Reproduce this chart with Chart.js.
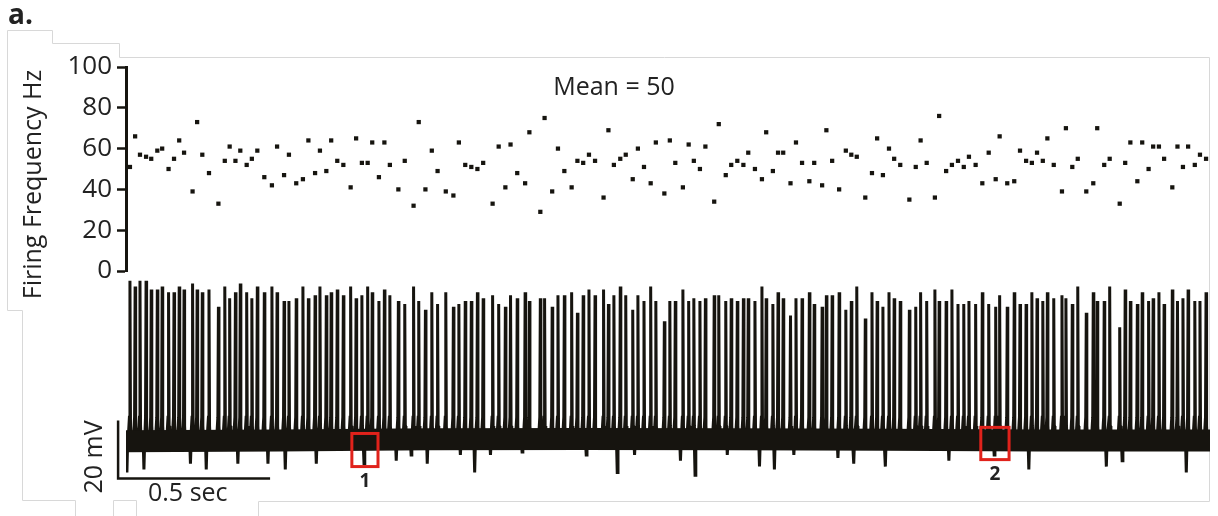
<!DOCTYPE html>
<html>
<head>
<meta charset="utf-8">
<title>Firing frequency and membrane potential</title>
<script src="https://cdn.jsdelivr.net/npm/chart.js@4.4.1/dist/chart.umd.min.js"></script>
<style>
  body { margin: 0; background: #fff; }
  #wrap { position: relative; width: 1218px; height: 516px; }
  #wrap canvas { position: absolute; left: 0; top: 0; }
</style>
</head>
<body>
<div id="wrap">
  <canvas id="freqChart" width="1218" height="516"></canvas>
  <canvas id="traceChart" width="1218" height="516"></canvas>
</div>
<script>
// spike times (s)
const spikeTimes = [
  0.013, 0.030, 0.046, 0.066, 0.083, 0.103, 0.119, 0.140, 0.158, 0.175,
  0.191, 0.219, 0.234, 0.251, 0.273, 0.304, 0.325, 0.341, 0.360, 0.376,
  0.397, 0.414, 0.432, 0.455, 0.480, 0.497, 0.520, 0.536, 0.560, 0.582,
  0.600, 0.622, 0.638, 0.659, 0.675, 0.695, 0.715, 0.739, 0.757, 0.776,
  0.795, 0.810, 0.832, 0.850, 0.868, 0.896, 0.917, 0.946, 0.963, 0.985,
  1.006, 1.025, 1.052, 1.077, 1.095, 1.116, 1.136, 1.156, 1.175, 1.206,
  1.226, 1.248, 1.265, 1.287, 1.313, 1.327, 1.363, 1.377, 1.402, 1.421,
  1.442, 1.466, 1.485, 1.504, 1.523, 1.543, 1.571, 1.587, 1.605, 1.626,
  1.644, 1.667, 1.684, 1.704, 1.726, 1.743, 1.771, 1.789, 1.807, 1.832,
  1.851, 1.868, 1.888, 1.906, 1.935, 1.950, 1.973, 1.991, 2.011, 2.031,
  2.047, 2.069, 2.092, 2.106, 2.128, 2.145, 2.162, 2.186, 2.204, 2.224,
  2.248, 2.264, 2.290, 2.304, 2.323, 2.346, 2.368, 2.386, 2.404, 2.432,
  2.454, 2.471, 2.490, 2.510, 2.527, 2.547, 2.577, 2.598, 2.614, 2.634,
  2.661, 2.675, 2.698, 2.717, 2.737, 2.756, 2.773, 2.795, 2.817, 2.838,
  2.861, 2.874, 2.899, 2.922, 2.941, 2.961, 2.980, 2.997, 3.016, 3.031,
  3.052, 3.079, 3.092, 3.113, 3.131, 3.159, 3.182, 3.195, 3.218, 3.236,
  3.269, 3.287, 3.304, 3.327, 3.343, 3.364, 3.379, 3.398, 3.415, 3.442,
  3.459, 3.477, 3.494, 3.516, 3.533, 3.553
];

// instantaneous firing frequency (Hz) at each spike
const firingHz = [
  51, 66, 57, 56, 55, 59, 60, 50, 55, 64,
  58, 39, 73, 57, 48, 33, 54, 61, 54, 59,
  52, 55, 59, 46, 42, 61, 47, 57, 43, 45,
  64, 48, 59, 49, 64, 54, 52, 41, 65, 53,
  53, 63, 46, 63, 52, 40, 54, 32, 73, 40,
  59, 49, 39, 37, 63, 52, 51, 50, 53, 33,
  61, 41, 62, 48, 43, 68, 29, 75, 39, 60,
  49, 41, 54, 53, 57, 54, 36, 69, 52, 55,
  57, 45, 60, 51, 43, 63, 38, 64, 53, 41,
  62, 54, 50, 61, 34, 72, 47, 52, 54, 52,
  58, 50, 45, 68, 49, 58, 58, 43, 63, 53,
  44, 53, 42, 69, 54, 40, 59, 57, 56, 36,
  48, 65, 47, 60, 55, 52, 35, 51, 64, 53,
  36, 76, 49, 52, 54, 51, 56, 52, 43, 58,
  45, 66, 43, 44, 59, 54, 53, 58, 54, 65,
  52, 39, 70, 51, 55, 39, 43, 70, 52, 55,
  33, 53, 63, 44, 63, 50, 61, 61, 55, 41,
  61, 51, 61, 52, 57, 55
];

// spike peak potential (mV)
const spikePeaks = [
  -5, -7, -5, -5, -8, -8, -7, -9, -9, -7,
  -8, -6, -8, -9, -8, -14, -7, -11, -9, -6,
  -9, -11, -7, -9, -7, -9, -12, -12, -11, -7,
  -11, -10, -7, -10, -9, -8, -10, -7, -11, -10,
  -7, -9, -12, -8, -10, -12, -13, -7, -12, -15,
  -9, -13, -9, -14, -13, -12, -12, -9, -11, -10,
  -13, -14, -10, -11, -9, -12, -11, -11, -14, -10,
  -10, -9, -16, -10, -8, -10, -8, -13, -10, -7,
  -10, -15, -10, -12, -7, -12, -19, -12, -12, -8,
  -12, -11, -12, -11, -10, -10, -12, -11, -12, -11,
  -11, -12, -7, -11, -13, -9, -11, -17, -11, -11,
  -9, -13, -14, -10, -10, -9, -15, -12, -7, -18,
  -9, -12, -14, -9, -11, -12, -15, -14, -9, -12,
  -8, -12, -12, -8, -13, -13, -12, -13, -9, -13,
  -14, -10, -14, -9, -13, -13, -9, -11, -12, -9,
  -11, -10, -11, -13, -7, -16, -9, -12, -12, -7,
  -21, -8, -12, -13, -9, -12, -11, -9, -13, -8,
  -12, -11, -8, -12, -12, -9
];

// downward deflections below the noise band
const dipTimes = [
  0.003, 0.059, 0.212, 0.264, 0.368, 0.467, 0.524, 0.626, 0.783, 0.889,
  0.938, 0.991, 1.100, 1.147, 1.199, 1.303, 1.514, 1.616, 1.673, 1.824,
  1.872, 1.978, 2.084, 2.133, 2.197, 2.342, 2.394, 2.498, 2.707, 2.856,
  2.970, 3.225, 3.277, 3.488
];
const dipMins = [
  -71, -70, -68, -70, -68, -68, -70, -68, -68, -67,
  -65, -68, -65, -71, -65, -64, -65, -71, -65, -67,
  -72, -65, -69, -70, -65, -66, -68, -69, -67, -65,
  -70, -69, -67, -71
];

// resting level of the noisy baseline (mV)
const baseTimes = [0, 0.5, 1.0, 1.5, 2.0, 2.5, 3.0, 3.566];
const baseLevels = [-60.3, -60, -59.6, -59.5, -59.6, -59.8, -60, -60];

const meanHz = 50;
const restMv = -60;
const thresholdMv = -52;
const tEnd = 3.566;

// boxed excerpts 1 and 2
const boxTimes = [[0.743, 0.829], [2.812, 2.905]];
const boxLevels = [[-69, -57.6], [-66.6, -55.5]];
const boxLabels = ["1", "2"];

// scale bar
const barStart = [-0.026, -73.1];
const barSec = 0.5;
const barMv = 20;

const FONT = "'Open Sans', 'DejaVu Sans', sans-serif";
const INK = "#16140f";
const TEXT = "#222";

const decorPlugin = {
  id: "decor",
  beforeDraw(chart) {
    const ctx = chart.ctx;
    ctx.save();
    ctx.strokeStyle = "#d8d8d8";
    ctx.lineWidth = 1;
    ctx.beginPath();
    ctx.moveTo(22.5, 500.5);
    ctx.lineTo(22.5, 310.5);
    ctx.lineTo(7.5, 310.5);
    ctx.lineTo(7.5, 30.5);
    ctx.lineTo(52.5, 30.5);
    ctx.lineTo(52.5, 43.5);
    ctx.lineTo(119.5, 43.5);
    ctx.lineTo(119.5, 57.5);
    ctx.lineTo(1209.5, 57.5);
    ctx.lineTo(1209.5, 501.5);
    ctx.lineTo(258.5, 501.5);
    ctx.lineTo(258.5, 516);
    ctx.moveTo(22.5, 500.5);
    ctx.lineTo(75.5, 500.5);
    ctx.lineTo(75.5, 516);
    ctx.moveTo(113.5, 516);
    ctx.lineTo(113.5, 500.5);
    ctx.lineTo(136.5, 500.5);
    ctx.lineTo(136.5, 516);
    ctx.stroke();
    ctx.restore();
  },
  afterDraw(chart) {
    const ctx = chart.ctx;
    ctx.save();
    ctx.fillStyle = TEXT;
    ctx.font = "bold 28px " + FONT;
    ctx.textAlign = "left";
    ctx.fillText("a.", 8, 24);

    ctx.font = "25px " + FONT;
    ctx.textAlign = "center";
    ctx.fillText("Mean = " + meanHz, 614, 95);

    ctx.translate(40.5, 184.5);
    ctx.rotate(-Math.PI / 2);
    ctx.fillText("Firing Frequency Hz", 0, 0);
    ctx.restore();
  },
};

const scaleBarPlugin = {
  id: "scaleBar",
  afterDraw(chart) {
    const ctx = chart.ctx;
    const xs = chart.scales.x;
    const ys = chart.scales.y;
    ctx.save();

    const x0 = xs.getPixelForValue(barStart[0]);
    const x1 = xs.getPixelForValue(barStart[0] + barSec);
    const y0 = ys.getPixelForValue(barStart[1]);
    const y1 = ys.getPixelForValue(barStart[1] + barMv);
    ctx.strokeStyle = INK;
    ctx.lineWidth = 2.5;
    ctx.beginPath();
    ctx.moveTo(x0, y1);
    ctx.lineTo(x0, y0);
    ctx.lineTo(x1, y0);
    ctx.stroke();

    ctx.fillStyle = TEXT;
    ctx.font = "25px " + FONT;
    ctx.textAlign = "left";
    ctx.fillText(barSec + " sec", 148, 501);

    ctx.save();
    ctx.translate(102, 457);
    ctx.rotate(-Math.PI / 2);
    ctx.textAlign = "center";
    ctx.fillText(barMv + " mV", 0, 0);
    ctx.restore();

    ctx.strokeStyle = "#e0221b";
    ctx.lineWidth = 3;
    ctx.font = "bold 19px " + FONT;
    ctx.textAlign = "center";
    boxTimes.forEach((span, i) => {
      const left = xs.getPixelForValue(span[0]);
      const right = xs.getPixelForValue(span[1]);
      const bottom = ys.getPixelForValue(boxLevels[i][0]);
      const top = ys.getPixelForValue(boxLevels[i][1]);
      ctx.strokeRect(left, top, right - left, bottom - top);
      ctx.fillText(boxLabels[i], (left + right) / 2, bottom + 20);
    });
    ctx.restore();
  },
};

const freqChart = new Chart(document.getElementById("freqChart"), {
  type: "scatter",
  data: {
    datasets: [
      {
        data: spikeTimes.map((t, i) => ({ x: t, y: firingHz[i] })),
        pointStyle: "rect",
        pointRadius: 3,
        borderWidth: 0,
        backgroundColor: INK,
      },
    ],
  },
  options: {
    responsive: false,
    animation: false,
    devicePixelRatio: 1,
    layout: { padding: { left: 0, right: 8, top: 67, bottom: 245 } },
    plugins: { legend: { display: false }, tooltip: { enabled: false } },
    scales: {
      x: { type: "linear", min: 0, max: tEnd, display: false },
      y: {
        min: 0,
        max: 100,
        ticks: { stepSize: 20, color: TEXT, padding: 5, font: { family: FONT, size: 26 } },
        grid: { drawOnChartArea: false, color: INK, tickLength: 9, tickWidth: 2.5 },
        border: { color: INK, width: 3 },
        afterFit: (scale) => {
          scale.width = 126;
        },
      },
    },
  },
  plugins: [decorPlugin],
});

// trace: spikes ramp up through threshold to the peak, dips drop straight down
const events = [];
spikeTimes.forEach((t, i) => events.push({ t: t, v: spikePeaks[i], spike: true }));
dipTimes.forEach((t, i) => events.push({ t: t, v: dipMins[i], spike: false }));
events.sort((a, b) => a.t - b.t);

const tracePoints = [];
events.forEach((e) => {
  if (e.spike) {
    tracePoints.push({ x: e.t - 0.006, y: restMv });
    tracePoints.push({ x: e.t - 0.0018, y: thresholdMv });
    tracePoints.push({ x: e.t, y: e.v });
    tracePoints.push({ x: e.t + 0.0018, y: thresholdMv - 3 });
    tracePoints.push({ x: e.t + 0.004, y: restMv });
  } else {
    tracePoints.push({ x: e.t - 0.0025, y: restMv });
    tracePoints.push({ x: e.t, y: e.v });
    tracePoints.push({ x: e.t + 0.0025, y: restMv });
  }
});

const traceChart = new Chart(document.getElementById("traceChart"), {
  type: "scatter",
  data: {
    datasets: [
      {
        data: baseTimes.map((t, i) => ({ x: t, y: baseLevels[i] })),
        showLine: true,
        borderColor: INK,
        borderWidth: 22,
        pointRadius: 0,
      },
      {
        data: tracePoints,
        showLine: true,
        borderColor: INK,
        borderWidth: 3,
        pointRadius: 0,
      },
    ],
  },
  options: {
    responsive: false,
    animation: false,
    devicePixelRatio: 1,
    layout: { padding: { left: 126, right: 8, top: 272, bottom: 32 } },
    plugins: { legend: { display: false }, tooltip: { enabled: false } },
    scales: {
      x: { type: "linear", min: 0, max: tEnd, display: false },
      y: { min: -75, max: -2, display: false },
    },
  },
  plugins: [scaleBarPlugin],
});
</script>
</body>
</html>
